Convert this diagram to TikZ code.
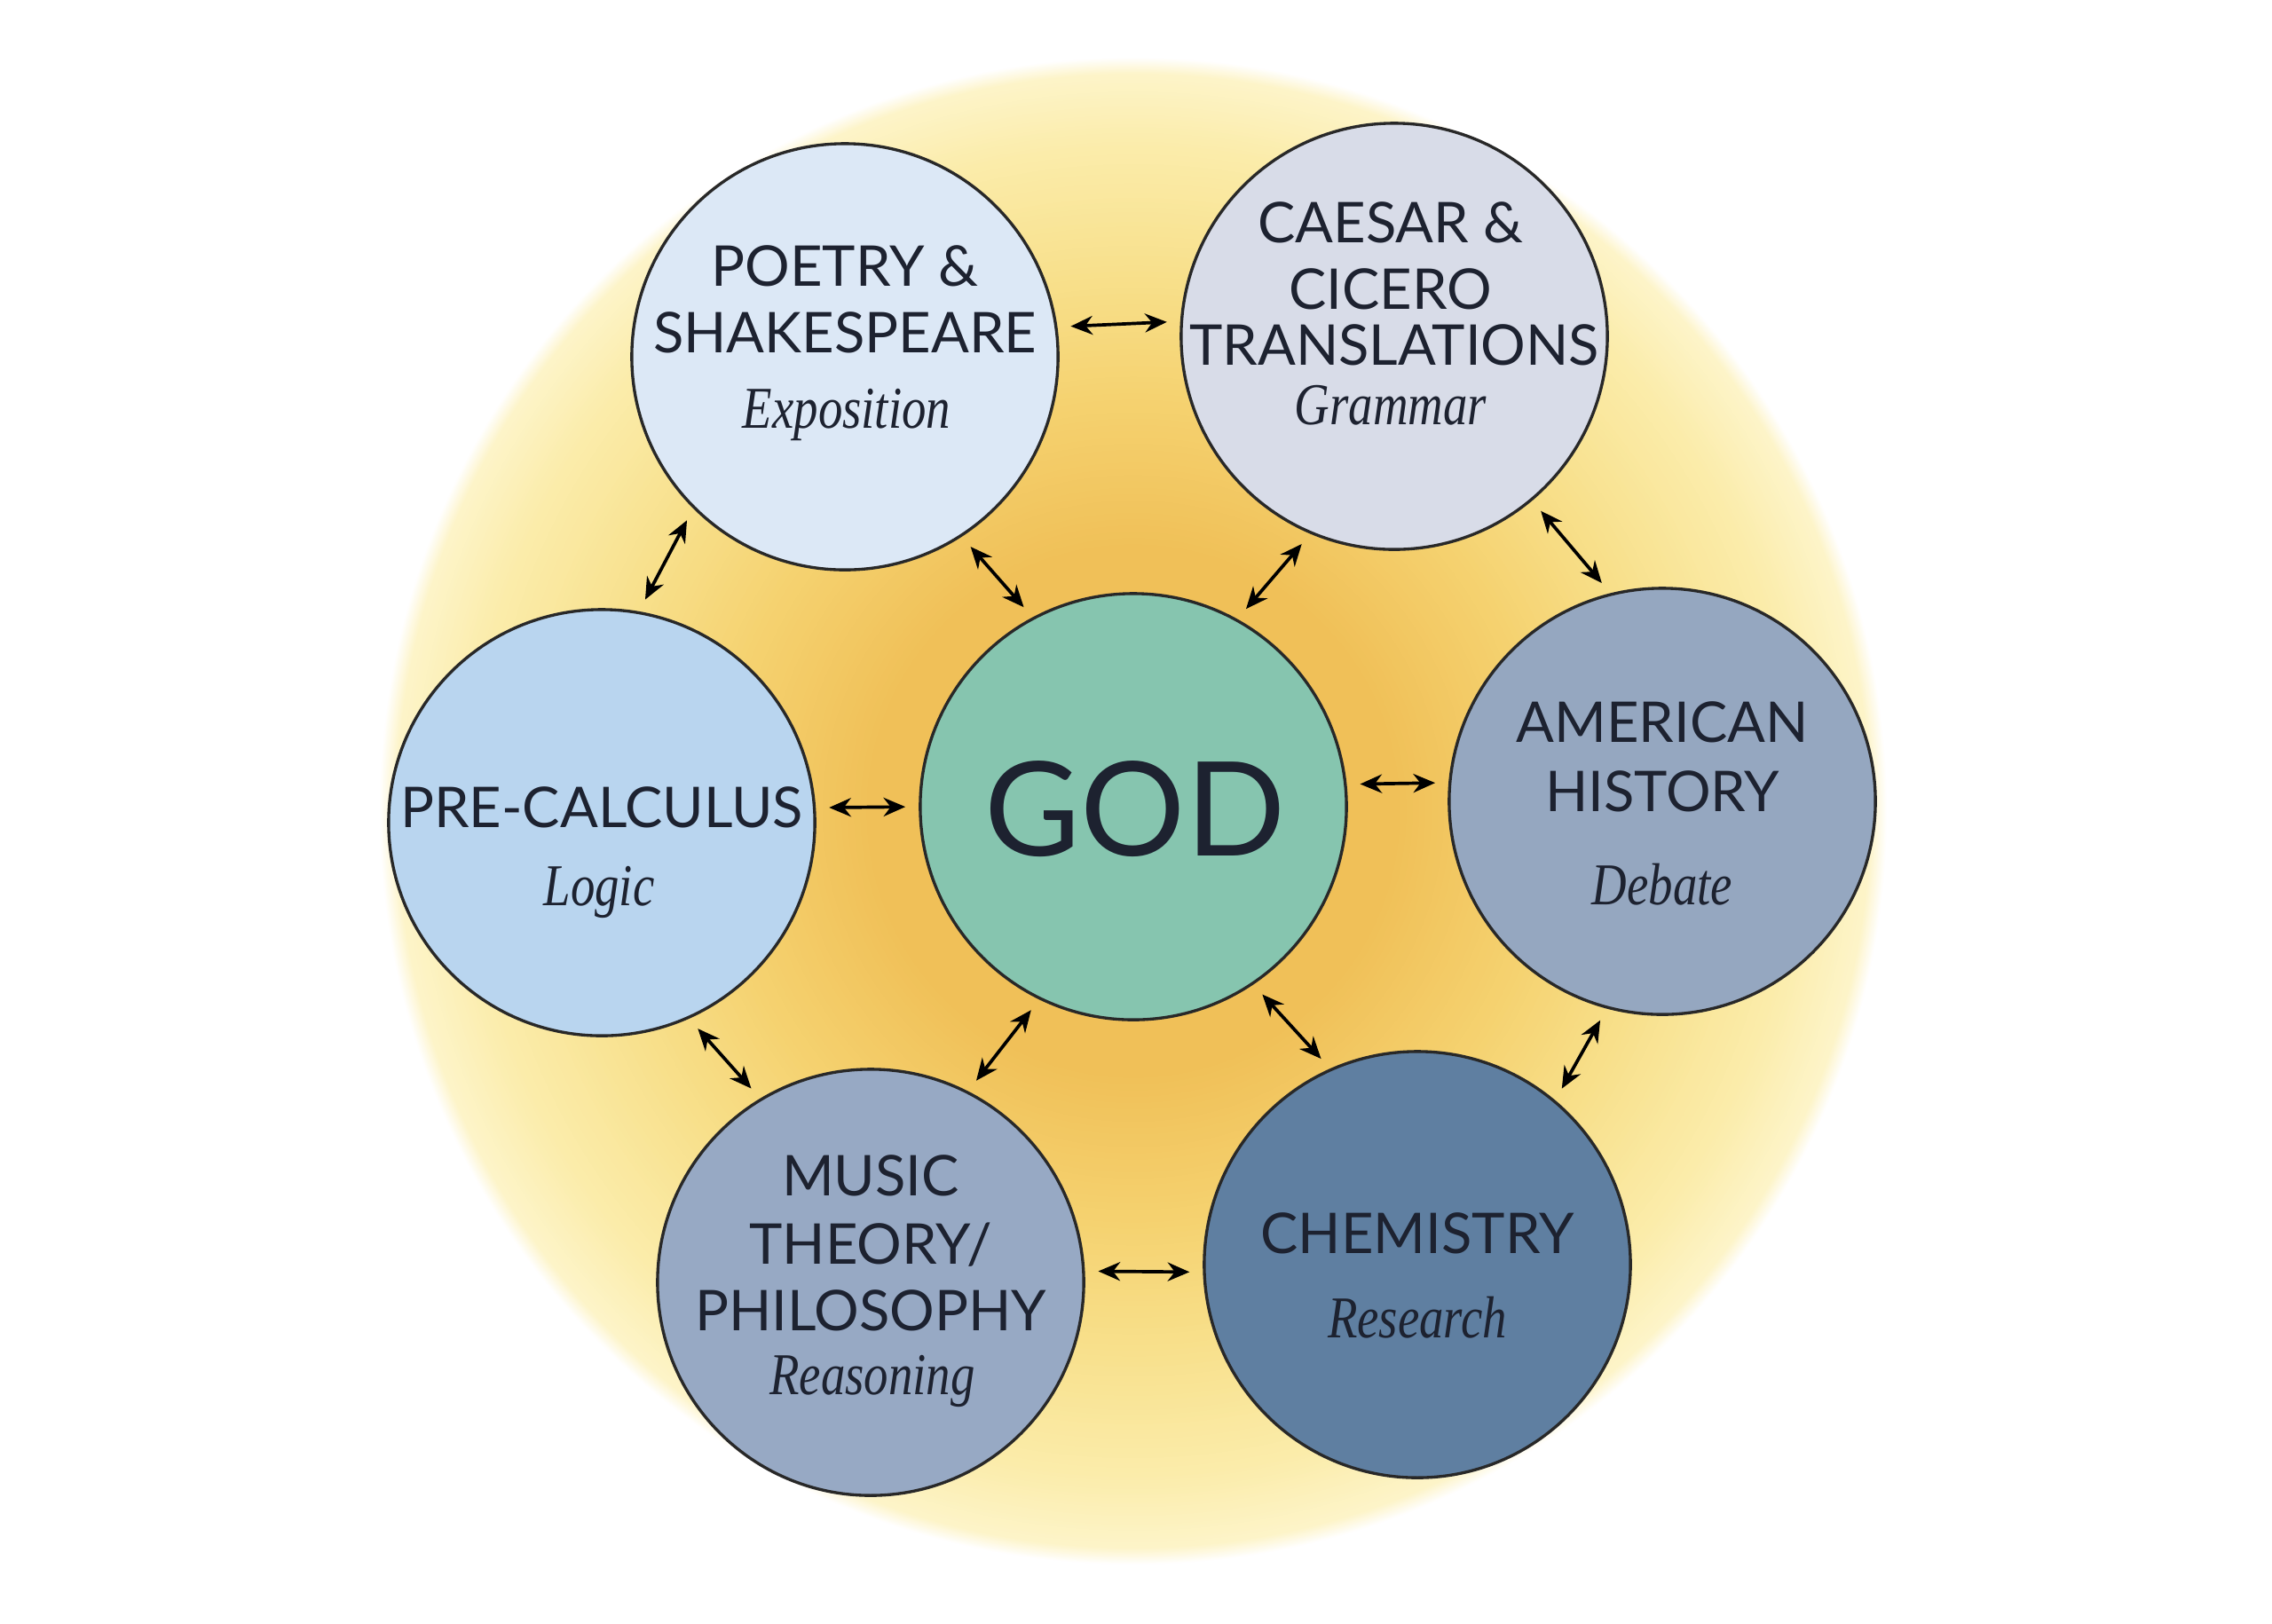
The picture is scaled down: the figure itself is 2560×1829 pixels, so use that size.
\documentclass[tikz,border=0pt]{standalone}
\usepackage{fontspec}
\setmainfont{Lato}
\newfontfamily\itfont{Liberation Serif}[FakeStretch=0.82]
\usetikzlibrary{arrows.meta}
\definecolor{glowA}{RGB}{240,192,88}
\definecolor{glowB}{RGB}{245,210,112}
\definecolor{glowC}{RGB}{248,225,142}
\definecolor{glowD}{RGB}{251,236,170}
\definecolor{glowE}{RGB}{253,244,200}
\definecolor{circline}{RGB}{40,40,40}
\definecolor{ink}{RGB}{29,34,48}
\definecolor{godfill}{RGB}{134,197,175}
\definecolor{poetryfill}{RGB}{220,232,246}
\definecolor{caesarfill}{RGB}{216,220,232}
\definecolor{amfill}{RGB}{149,167,192}
\definecolor{chemfill}{RGB}{95,127,161}
\definecolor{musicfill}{RGB}{151,169,196}
\definecolor{precfill}{RGB}{185,213,239}
\begin{document}
\begin{tikzpicture}[x=0.01cm,y=-0.01cm,
  disc/.style={circle, draw=circline, line width=0.95pt, minimum size=4.8cm, inner sep=0pt},
  captxt/.style={font=\fontsize{18}{20}\selectfont, text=ink, anchor=base, inner sep=0pt},
  ittxt/.style={font=\itfont\itshape\fontsize{19}{21}\selectfont, text=ink, anchor=base, inner sep=0pt},
  link/.style={{Stealth[length=7pt,width=6pt]}-{Stealth[length=7pt,width=6pt]}, line width=1.05pt, shorten <=0.15cm, shorten >=0.15cm, draw=black}
]
\useasboundingbox (0,0) rectangle (2560,1829);
\fill[white] (0,0) rectangle (2560,1829);
% background glow as concentric rings
\foreach \ra/\rb/\ca/\cb in {8.49/8.30/white/glowE, 8.30/7.50/glowE/glowD, 7.50/6.20/glowD/glowC, 6.20/4.70/glowC/glowB, 4.70/3.00/glowB/glowA} {
  \foreach \k in {0,...,23} {
    \pgfmathsetmacro\rr{\ra-(\ra-\rb)*\k/24}
    \pgfmathtruncatemacro\pp{100*\k/24}
    \fill[\cb!\pp!\ca] (1277,914) circle[radius=\rr cm];
  }
}
\fill[glowA] (1277,914) circle[radius=3.00cm];

% discs
\node[disc, fill=godfill]    (god)  at (1277,909) {};
\node[disc, fill=poetryfill] (poet) at (952,402) {};
\node[disc, fill=caesarfill] (caes) at (1571,379) {};
\node[disc, fill=amfill]     (amer) at (1873,903) {};
\node[disc, fill=chemfill]   (chem) at (1597,1425) {};
\node[disc, fill=musicfill]  (musi) at (981,1445) {};
\node[disc, fill=precfill]   (prec) at (678,927) {};

% texts
\node[captxt, font=\fontsize{42}{46}\selectfont] (godt) at (1279,964) {GOD};

\node[captxt] (poet1) at (952,322) {POETRY \&};
\node[captxt] (poet2) at (952,397) {SHAKESPEARE};
\node[ittxt] (poet3) at (954,482) {Exposition};

\node[captxt] (caes1) at (1567,273) {CAESAR \&};
\node[captxt] (caes2) at (1567,348) {CICERO};
\node[captxt] (caes3) at (1571,411) {TRANSLATIONS};
\node[ittxt] (caes4) at (1567,478) {Grammar};

\node[captxt] (amer1) at (1873,836) {AMERICAN};
\node[captxt] (amer2) at (1873,914) {HISTORY};
\node[ittxt] (amer3) at (1873,1019) {Debate};

\node[captxt] (prec1) at (678,932) {PRE-CALCULUS};
\node[ittxt] (prec2) at (675,1020) {Logic};

\node[captxt] (musi1) at (981,1347) {MUSIC};
\node[captxt] (musi2) at (981,1424) {THEORY/};
\node[captxt] (musi3) at (981,1499) {PHILOSOPHY};
\node[ittxt] (musi4) at (983,1571) {Reasoning};

\node[captxt] (chem1) at (1597,1412) {CHEMISTRY};
\node[ittxt] (chem2) at (1597,1507) {Research};

% connectors
\draw[link] (poet.8)    -- (caes.176);
\draw[link] (caes.-50)  -- (amer.104);
\draw[link] (amer.-105) -- (chem.50);
\draw[link] (musi.3)    -- (chem.182);
\draw[link] (musi.121)  -- (prec.-66);
\draw[link] (prec.80)   -- (poet.-135);
\draw[link] (poet.-57)  -- (god.118);
\draw[link] (god.61)    -- (caes.-113);
\draw[link] (god.6)     -- (amer.175);
\draw[link] (god.-56)   -- (chem.114);
\draw[link] (god.-116)  -- (musi.63);
\draw[link] (prec.4)    -- (god.180);
\end{tikzpicture}
\end{document}
